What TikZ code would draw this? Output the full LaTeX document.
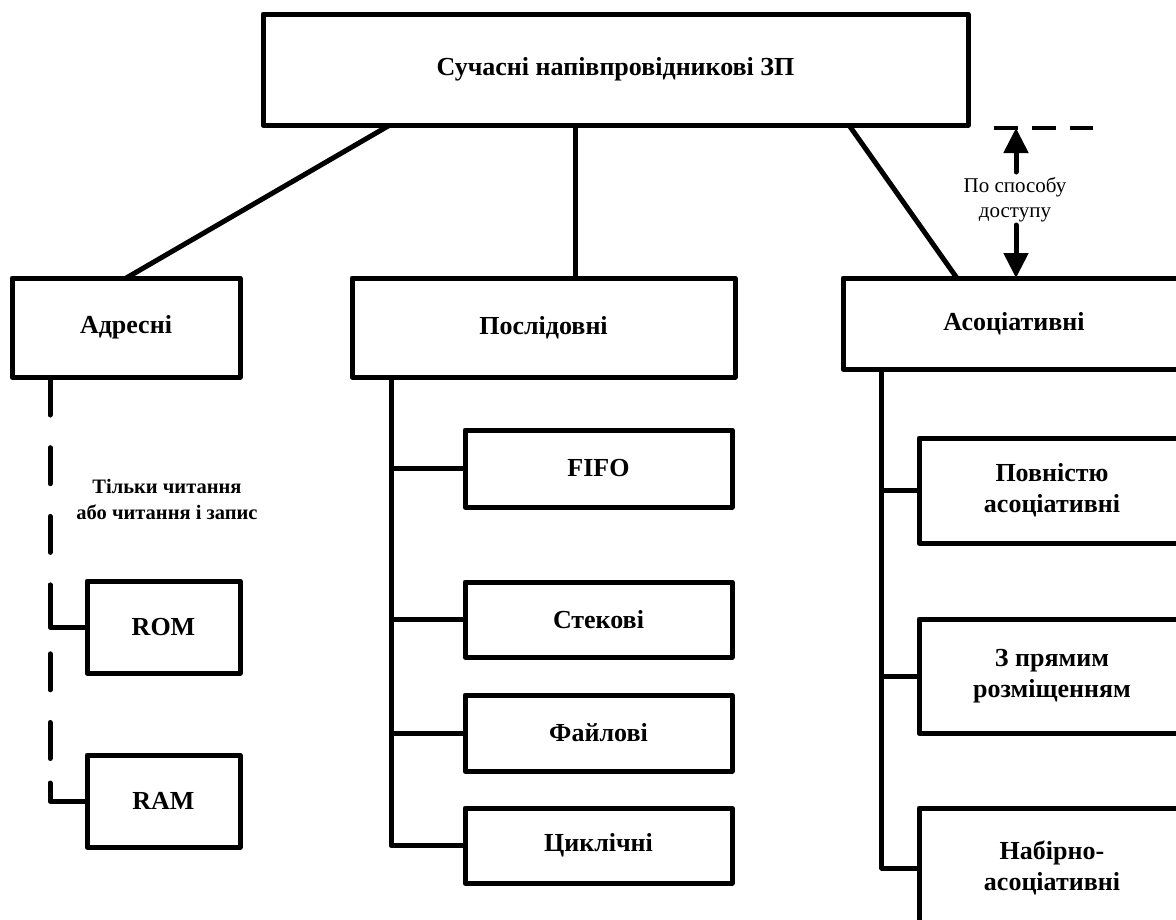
\documentclass[tikz,border=0pt]{standalone}
\usepackage{fontspec}
\setmainfont{Liberation Serif}
\usetikzlibrary{arrows.meta,calc}
\begin{document}
\begin{tikzpicture}[x=1pt,y=-1pt,
  box/.style={draw,line width=5pt,line join=round,inner sep=0pt,outer sep=0pt,
    align=center,font=\bfseries\fontsize{26}{31}\selectfont},
  link/.style={line width=5pt,line join=round},
  dashlink/.style={line width=5pt,line cap=round,dash pattern=on 36pt off 32.7pt},
  guide/.style={line width=4pt,dash pattern=on 24pt off 14pt},
  pointer/.style={line width=5pt,line cap=round,-{Triangle[length=25pt,width=24pt]}},
  note/.style={font=\fontsize{21}{25}\selectfont,align=center,inner sep=0pt},
  smallnote/.style={font=\bfseries\fontsize{20.5}{26}\selectfont,align=center,inner sep=0pt}]
\useasboundingbox (0,0) rectangle (1176,919);
\fill[white] (0,0) rectangle (1176,919);
\clip (0,0) rectangle (1176,919);

% root
\node[box,minimum width=705pt,minimum height=111pt] (root) at (615.5,69.5) {Сучасні напівпровідникові ЗП};

% second level
\node[box,minimum width=228pt,minimum height=99pt] (adr) at (126,327.5) {Адресні};
\node[box,minimum width=383pt,minimum height=99pt] (posl) at (543.5,327.5) {Послідовні};
\node[box,minimum width=342pt,minimum height=91pt] (asoc) at (1014,323.5) {Асоціативні};

% address memories
\node[box,minimum width=153pt,minimum height=92pt] (rom) at (163.5,627) {ROM};
\node[box,minimum width=153pt,minimum height=92pt] (ram) at (163.5,801) {RAM};
\node[smallnote] (rw) at (167,499) {Тільки читання\\або читання і запис};

% sequential memories
\node[box,minimum width=267pt,minimum height=77pt] (fifo) at (598.5,468.5) {FIFO};
\node[box,minimum width=267pt,minimum height=75pt] (stek) at (598.5,619.5) {Стекові};
\node[box,minimum width=267pt,minimum height=76pt] (fayl) at (598.5,733) {Файлові};
\node[box,minimum width=267pt,minimum height=75pt] (cykl) at (598.5,845.5) {Циклічні};

% associative memories
\node[box,minimum width=266pt,minimum height=105pt] (povn) at (1052,490.5) {Повністю\\асоціативні};
\node[box,minimum width=266pt,minimum height=114pt] (pryam) at (1052,676) {З прямим\\розміщенням};
\node[box,minimum width=266pt,minimum height=120pt] (nabir) at (1052,868) {Набірно-\\асоціативні};

% root to second level
\draw[link] ($(root.south west)!0.18!(root.south east)$) -- ($(adr.north west)!0.501!(adr.north east)$);
\coordinate (rm) at ($(root.south west)!0.443!(root.south east)$);
\draw[link] (rm) -- (rm |- posl.north);
\draw[link] ($(root.south west)!0.831!(root.south east)$) -- ($(asoc.north west)!0.333!(asoc.north east)$);

% address trunk (dashed) with branches
\coordinate (at) at ($(adr.south west)!0.167!(adr.south east)$);
\draw[dashlink] ($(at)+(0,2)$) -- ($(at |- ram.west)+(0,-18)$);
\draw[link,line cap=round] ($(at |- rom.west)+(0,-42)$) |- (rom.west);
\draw[link,line cap=round] ($(at |- ram.west)+(0,-18)$) |- (ram.west);

% sequential trunk
\coordinate (pt) at ($(posl.south west)!0.102!(posl.south east)$);
\draw[link] (pt) |- (cykl.west);
\draw[link] (pt |- fifo.west) -- (fifo.west);
\draw[link] (pt |- stek.west) -- (stek.west);
\draw[link] (pt |- fayl.west) -- (fayl.west);

% associative trunk
\coordinate (st) at ($(asoc.south west)!0.114!(asoc.south east)$);
\draw[link] (st) |- (nabir.west);
\draw[link] (st |- povn.west) -- (povn.west);
\draw[link] (st |- pryam.west) -- (pryam.west);

% classification criterion
\coordinate (g1) at (994,128);
\coordinate (g2) at (1093,128);
\draw[guide] (g1) -- (g2);
\node[note] (crit) at (1015,199.5) {По способу\\доступу};
\coordinate (upS) at (1016,172);
\coordinate (upT) at (1016,128);
\coordinate (dnS) at (1016,225);
\coordinate (dnT) at (1016,278);
\draw[pointer] (upS) -- (upT);
\draw[pointer] (dnS) -- (dnT);
\end{tikzpicture}
\end{document}
